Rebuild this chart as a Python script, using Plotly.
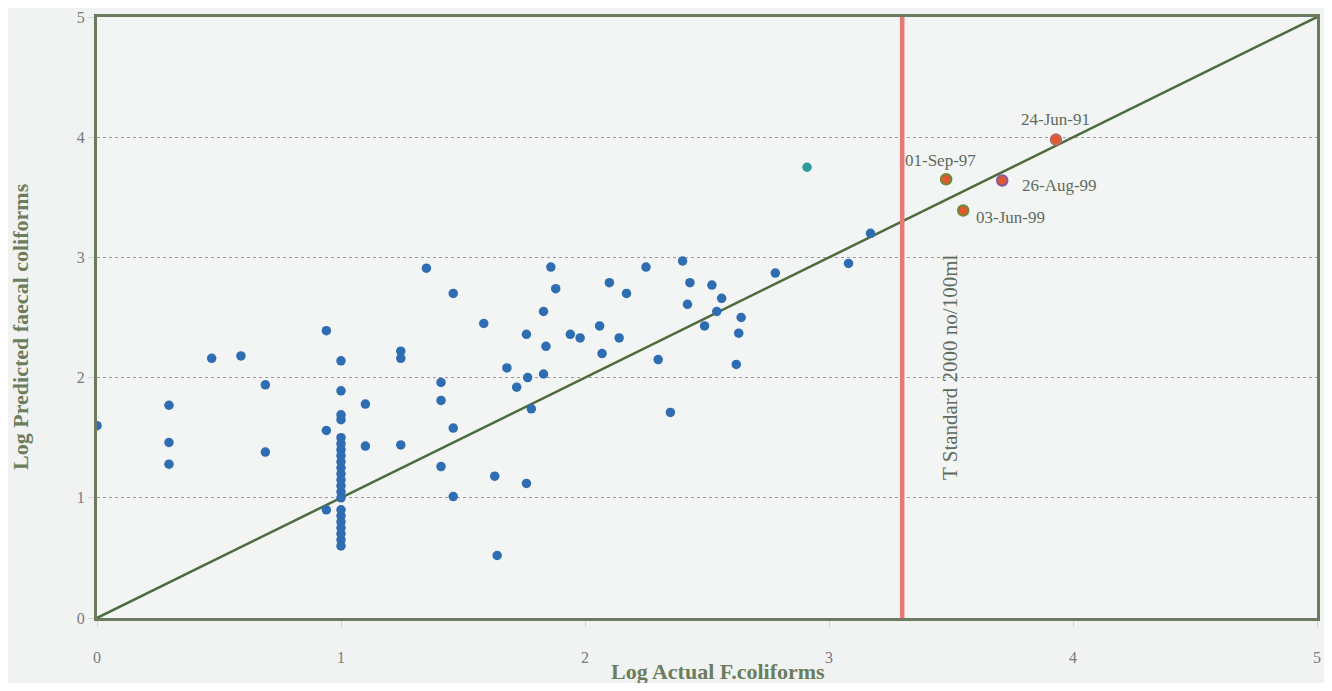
import plotly.graph_objects as go

# Observed vs predicted (log10) faecal coliforms
actual = [0.0, 0.295, 0.295, 0.295, 0.47, 0.59, 0.69, 0.69, 0.94, 0.94, 0.94,
          1.0, 1.0, 1.0, 1.0, 1.0, 1.0, 1.0, 1.0, 1.0, 1.0, 1.0, 1.0, 1.0, 1.0,
          1.0, 1.0, 1.0, 1.0, 1.0, 1.0, 1.0, 1.0,
          1.1, 1.1, 1.245, 1.245, 1.245, 1.35, 1.41, 1.41, 1.41, 1.46, 1.46, 1.46,
          1.585, 1.63, 1.64, 1.68, 1.72, 1.76, 1.765, 1.78, 1.76, 1.83, 1.83, 1.84,
          1.86, 1.88, 1.94, 1.98, 2.06, 2.07, 2.10, 2.14, 2.17, 2.25, 2.30, 2.35,
          2.40, 2.42, 2.43, 2.49, 2.52, 2.54, 2.56, 2.62, 2.63, 2.64, 2.78,
          3.08, 3.17]
predicted = [1.6, 1.77, 1.46, 1.28, 2.16, 2.18, 1.94, 1.38, 2.39, 1.56, 0.9,
             2.14, 1.89, 1.69, 1.65, 1.5, 1.45, 1.4, 1.35, 1.3, 1.25, 1.2, 1.15,
             1.1, 1.05, 1.0, 0.9, 0.85, 0.8, 0.75, 0.7, 0.65, 0.6,
             1.78, 1.43, 2.22, 2.16, 1.44, 2.91, 1.96, 1.81, 1.26, 2.70, 1.58, 1.01,
             2.45, 1.18, 0.52, 2.08, 1.92, 2.36, 2.0, 1.74, 1.12, 2.55, 2.03, 2.26,
             2.92, 2.74, 2.36, 2.33, 2.43, 2.20, 2.79, 2.33, 2.70, 2.92, 2.15, 1.71,
             2.97, 2.61, 2.79, 2.43, 2.77, 2.55, 2.66, 2.11, 2.37, 2.50, 2.87,
             2.95, 3.20]

teal_actual = [2.91]
teal_predicted = [3.75]

event_labels = ["24-Jun-91", "01-Sep-97", "26-Aug-99", "03-Jun-99"]
event_actual = [3.93, 3.48, 3.71, 3.55]
event_predicted = [3.98, 3.65, 3.64, 3.39]

standard_log = 3.30  # log10(2000)
axis_ticks = [0, 1, 2, 3, 4, 5]

fig = go.Figure()

fig.add_trace(go.Scatter(x=[0, 5], y=[0, 5], mode="lines",
                         line=dict(color="#4e6b3c", width=2.5), hoverinfo="skip"))
fig.add_trace(go.Scatter(x=[standard_log, standard_log], y=[0, 5], mode="lines",
                         line=dict(color="#e87878", width=4.5), hoverinfo="skip"))
fig.add_trace(go.Scatter(x=actual, y=predicted, mode="markers",
                         marker=dict(color="#2f6db3", size=9.5, line=dict(width=0))))
fig.add_trace(go.Scatter(x=teal_actual, y=teal_predicted, mode="markers",
                         marker=dict(color="#2f9aa0", size=9.5, line=dict(width=0))))
fig.add_trace(go.Scatter(x=event_actual, y=event_predicted, mode="markers",
                         marker=dict(color="#e0582e", size=10.5,
                                     line=dict(color=["#b86a6a", "#6f8a3a", "#8a5aa0", "#6f8a3a"], width=2))))

label_pos = {"24-Jun-91": (0, -20, "center"), "01-Sep-97": (-6, -19, "center"),
             "26-Aug-99": (18, 5, "left"), "03-Jun-99": (11, 7, "left")}
for lab, xa, ya in zip(event_labels, event_actual, event_predicted):
    dx, dy, anc = label_pos[lab]
    fig.add_annotation(x=xa, y=ya, text=lab, showarrow=False, xshift=dx, yshift=-dy,
                       xanchor=anc, yanchor="middle",
                       font=dict(family="Liberation Serif", size=17, color="#5e6a5e"))

fig.add_annotation(x=standard_log, y=2.09, xref="x", yref="y", text="T Standard 2000 no/100ml",
                   showarrow=False, textangle=-90, xshift=48,
                   font=dict(family="Liberation Serif", size=21, color="#5e6a5e"))

title_font = dict(family="Liberation Serif", size=22, color="#6b7d5c")
fig.add_annotation(x=0.509, y=-0.0882, xref="paper", yref="paper", showarrow=False,
                   text="<b>Log Actual F.coliforms</b>", xanchor="center", yanchor="middle",
                   font=title_font)
fig.add_annotation(x=-0.0623, y=0.486, xref="paper", yref="paper", showarrow=False,
                   text="<b>Log Predicted faecal coliforms</b>", textangle=-90,
                   xanchor="center", yanchor="middle", font=title_font)

# page body adds an 8px margin; size the figure so that it fits the 1332x691 window
fig.update_layout(
    width=1316, height=675,
    margin=dict(l=89, r=7, t=9, b=65),
    paper_bgcolor="#f1f3f2", plot_bgcolor="#f3f5f4",
    showlegend=False,
)
fig.update_xaxes(range=[0, 5], tickvals=axis_ticks, showgrid=False, zeroline=False,
                 automargin=False,
                 showline=True, mirror=True, linecolor="#6c7a62", linewidth=3,
                 ticks="outside", ticklen=6, tickcolor="#cfd3cf", ticklabelstandoff=17,
                 tickfont=dict(family="Liberation Serif", size=16, color="#7a7a7a"))
fig.update_yaxes(range=[0, 5], tickvals=axis_ticks, showgrid=True, gridcolor="#9a9a9a",
                 griddash="dot", gridwidth=1, zeroline=False, automargin=False,
                 showline=True, mirror=True, linecolor="#6c7a62", linewidth=3,
                 ticks="outside", ticklen=6, tickcolor="#cfd3cf",
                 tickfont=dict(family="Liberation Serif", size=16, color="#7a7a7a"))

fig.write_html("out.html")
